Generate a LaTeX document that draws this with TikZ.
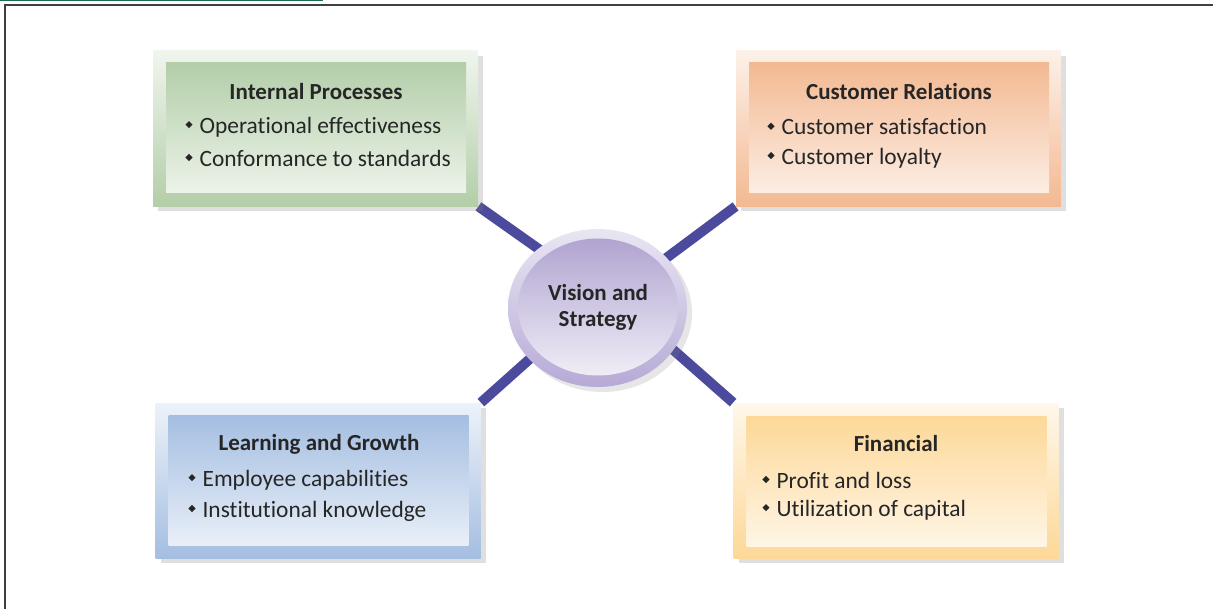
\documentclass[tikz,border=0pt]{standalone}
\usepackage{fontspec}
\setmainfont{Carlito}[Ligatures=NoCommon]
\usetikzlibrary{shapes.geometric,shadows,backgrounds,calc}

\definecolor{ipgreen}{HTML}{B3CEA8}
\definecolor{crorange}{HTML}{F3B992}
\definecolor{lgblue}{HTML}{A4BEE1}
\definecolor{finyellow}{HTML}{FDD898}
\definecolor{spokeblue}{HTML}{4B4A9D}
\definecolor{visionlilac}{HTML}{B1A4D1}
\definecolor{visionrim}{HTML}{B6AAD6}
\definecolor{framegreen}{HTML}{1B6B52}

\newcommand{\bul}{\raisebox{0.45ex}{\tikz\fill[black!85] (0,0) -- (1.8pt,1.8pt) -- (3.6pt,0) -- (1.8pt,-1.8pt) -- cycle;}\hspace{3.5pt}}

\tikzset{
  outerbox/.style={rectangle, minimum width=162.5pt, minimum height=77.5pt, inner sep=0pt,
    drop shadow={shadow xshift=2.5pt, shadow yshift=-2.5pt, opacity=.25}},
  innerbox/.style={rectangle, minimum width=150pt, minimum height=65pt, inner sep=0pt},
  boxtitle/.style={font=\bfseries\fontsize{11.5}{13}\selectfont, text=black!85},
  boxitem/.style={anchor=west, inner sep=0pt, font=\fontsize{11.7}{14}\selectfont, text=black!85},
  spoke/.style={spokeblue, line width=5pt}
}

\begin{document}
\begin{tikzpicture}[x=0.5pt,y=-0.5pt]
\useasboundingbox (0,0) rectangle (1213,609);
% frame
\fill[framegreen] (0,0) rectangle (323,1.5);
\draw[black!75, line width=1pt] (5,609) -- (5,5) -- (1213,5);

% internal processes
\node[outerbox, top color=ipgreen!20!white, bottom color=ipgreen] (ipOut) at (315.5,128.5) {};
\node[innerbox, top color=ipgreen, bottom color=ipgreen!25!white] (ipIn) at (316,128) {};
\node[boxtitle] (ipT) at (316,92) {Internal Processes};
\node[boxitem] (ip1) at (185,127) {\bul Operational effectiveness};
\node[boxitem] (ip2) at (185,158) {\bul Conformance to standards};

% customer relations
\node[outerbox, top color=crorange!20!white, bottom color=crorange] (crOut) at (898.5,128.5) {};
\node[innerbox, top color=crorange, bottom color=crorange!25!white] (crIn) at (899,128) {};
\node[boxtitle] (crT) at (899,92) {Customer Relations};
\node[boxitem] (cr1) at (767,127) {\bul Customer satisfaction};
\node[boxitem] (cr2) at (767,158) {\bul Customer loyalty};

% learning and growth
\node[outerbox, top color=lgblue!20!white, bottom color=lgblue] (lgOut) at (318,480.5) {};
\node[innerbox, top color=lgblue, bottom color=lgblue!25!white] (lgIn) at (318.5,480) {};
\node[boxtitle] (lgT) at (319,444) {Learning and Growth};
\node[boxitem] (lg1) at (188,480) {\bul Employee capabilities};
\node[boxitem] (lg2) at (188,511) {\bul Institutional knowledge};

% financial
\node[outerbox, top color=finyellow!20!white, bottom color=finyellow] (finOut) at (896,480.5) {};
\node[innerbox, top color=finyellow, bottom color=finyellow!25!white] (finIn) at (896.5,481) {};
\node[boxtitle] (finT) at (896,444) {Financial};
\node[boxitem] (fin1) at (762,480) {\bul Profit and loss};
\node[boxitem] (fin2) at (762,510) {\bul Utilization of capital};

% vision and strategy
\node[ellipse, minimum width=89.5pt, minimum height=79pt, inner sep=0pt,
  top color=visionrim!30!white, bottom color=visionrim,
  drop shadow={shadow xshift=2.5pt, shadow yshift=-2.5pt, opacity=.2}] (vsRim) at (597.5,308) {};
\node[ellipse, minimum width=80pt, minimum height=68.5pt, inner sep=0pt,
  top color=visionlilac, bottom color=visionlilac!20!white,
  align=center, font=\bfseries\fontsize{11.5}{13}\selectfont, text=black!85] (vs) at (598,307) {Vision and\\Strategy};

\begin{scope}[on background layer]
\draw[spoke] (ipOut.south east) -- ($(ipOut.south east)!1.2!(vsRim.135)$);
\draw[spoke] (crOut.south west) -- ($(crOut.south west)!1.2!(vsRim.36)$);
\draw[spoke] (lgOut.north east) -- ($(lgOut.north east)!1.2!(vsRim.217)$);
\draw[spoke] (finOut.north west) -- ($(finOut.north west)!1.2!(vsRim.-29)$);
\end{scope}
\end{tikzpicture}
\end{document}
